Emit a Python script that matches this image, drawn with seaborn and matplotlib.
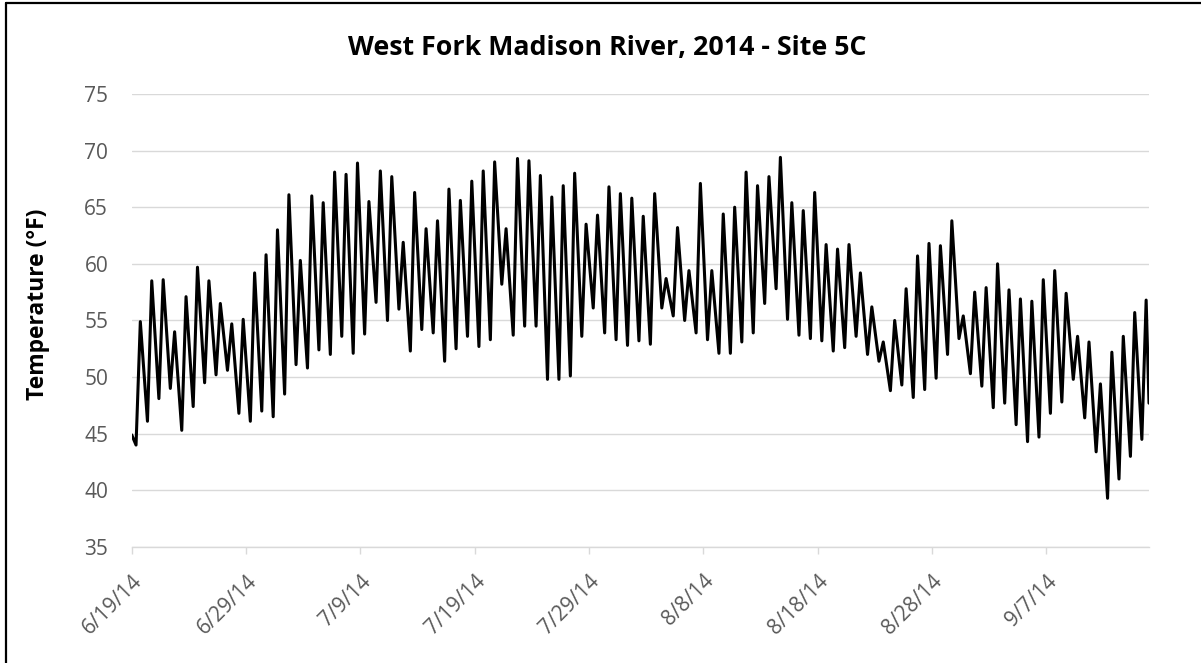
import pandas as pd
import matplotlib.pyplot as plt
import seaborn as sns
from matplotlib.lines import Line2D

# Daily stream temperature extremes (deg F), 6/19/14 onward
start_date = '2014-06-19'
start_temp = 44.9
end_temp = 47.7
daily_min = [
    44.0, 46.1, 48.1, 49.0, 45.3, 47.4, 49.5, 50.2, 50.6, 46.8,
    46.1, 47.0, 46.5, 48.5, 51.1, 50.8, 52.4, 52.0, 53.6, 52.1,
    53.8, 56.6, 55.0, 56.0, 52.3, 54.2, 53.9, 51.4, 52.5, 53.6,
    52.7, 53.3, 58.2, 53.7, 54.5, 54.5, 49.8, 49.8, 50.1, 53.6,
    56.1, 53.9, 53.3, 52.8, 53.2, 52.9, 56.1, 55.4, 55.0, 53.9,
    53.3, 52.1, 52.1, 53.1, 53.9, 56.5, 57.8, 55.1, 53.7, 53.4,
    53.2, 52.3, 52.6, 53.6, 52.0, 51.4, 48.8, 49.3, 48.2, 48.9,
    49.9, 52.0, 53.4, 50.3, 49.2, 47.3, 47.7, 45.8, 44.3, 44.7,
    46.8, 47.8, 49.8, 46.4, 43.4, 39.3, 41.0, 43.0, 44.5,
]
daily_max = [
    54.9, 58.5, 58.6, 54.0, 57.1, 59.7, 58.5, 56.5, 54.7, 55.1,
    59.2, 60.8, 63.0, 66.1, 60.3, 66.0, 65.4, 68.1, 67.9, 68.9,
    65.5, 68.2, 67.7, 61.9, 66.3, 63.1, 63.8, 66.6, 65.6, 67.3,
    68.2, 69.0, 63.1, 69.3, 69.1, 67.8, 65.9, 66.9, 68.0, 63.5,
    64.3, 66.8, 66.2, 65.8, 64.2, 66.2, 58.7, 63.2, 59.4, 67.1,
    59.4, 64.4, 65.0, 68.1, 66.9, 67.7, 69.4, 65.4, 64.7, 66.3,
    61.7, 61.3, 61.7, 59.2, 56.2, 53.1, 55.0, 57.8, 60.7, 61.8,
    61.6, 63.8, 55.4, 57.5, 57.9, 60.0, 57.7, 56.9, 56.7, 58.6,
    59.4, 57.4, 53.6, 53.1, 49.4, 52.2, 53.6, 55.7, 56.8,
]
tick_dates = ['6/19/14', '6/29/14', '7/9/14', '7/19/14', '7/29/14',
              '8/8/14', '8/18/14', '8/28/14', '9/7/14']

# morning low / late-afternoon high for each day
days = pd.date_range(start_date, periods=len(daily_max), freq='D')
times = [days[0]]
temps = [start_temp]
for d, lo, hi in zip(days, daily_min, daily_max):
    times += [d + pd.Timedelta(hours=9), d + pd.Timedelta(hours=18)]
    temps += [lo, hi]
times.append(days[-1] + pd.Timedelta(days=1))
temps.append(end_temp)
df = pd.DataFrame({'time': times, 'temp': temps})

sns.set_theme(style='white')
plt.rcParams['font.family'] = ['Open Sans', 'DejaVu Sans']

fig = plt.figure(figsize=(12.01, 6.63), dpi=100)
ax = fig.add_axes([0.1097, 0.175, 0.8470, 0.6833])

sns.lineplot(data=df, x='time', y='temp', color='black', linewidth=2.2,
             estimator=None, ax=ax)
for ln in ax.get_lines():
    ln.set_solid_joinstyle('round')

ax.set_ylim(35, 75)
ax.set_yticks(range(35, 76, 5))
ax.set_xlim(days[0], days[-1] + pd.Timedelta(days=1))
ticks = pd.to_datetime(tick_dates, format='%m/%d/%y')
ax.set_xticks(ticks)
ax.set_xticklabels(tick_dates)

grid_c = '#d9d9d9'
ax.grid(axis='y', color=grid_c, linewidth=1.0)
ax.set_axisbelow(True)
for s in ['top', 'right', 'left']:
    ax.spines[s].set_visible(False)
ax.spines['bottom'].set_color(grid_c)
ax.spines['bottom'].set_linewidth(1.0)

ax.tick_params(axis='y', length=0, pad=17, labelsize=15, labelcolor='#595959')
ax.tick_params(axis='x', length=5, width=1.0, color=grid_c, direction='out',
               bottom=True, pad=12, labelsize=15, labelcolor='#595959')
for lab in ax.get_xticklabels():
    lab.set_rotation(45)
    lab.set_ha('right')
    lab.set_va('top')
    lab.set_rotation_mode('anchor')

ax.set_xlabel('')
ax.set_ylabel('Temperature (°F)', fontsize=16.5, fontweight='bold', color='black')
ax.yaxis.set_label_coords(-0.080, 0.536)

fig.text(0.506, 0.917, 'West Fork Madison River, 2014 - Site 5C', ha='center',
         va='baseline', fontsize=19.3, fontweight='bold', color='black')

# chart frame (only top and left edges are visible in the original)
fig.add_artist(Line2D([0.0046, 0.0046], [0, 0.9962], transform=fig.transFigure,
                      color='black', linewidth=1.6))
fig.add_artist(Line2D([0.0046, 1], [0.9962, 0.9962], transform=fig.transFigure,
                      color='black', linewidth=1.6))

fig.savefig('out.png', dpi=100)
